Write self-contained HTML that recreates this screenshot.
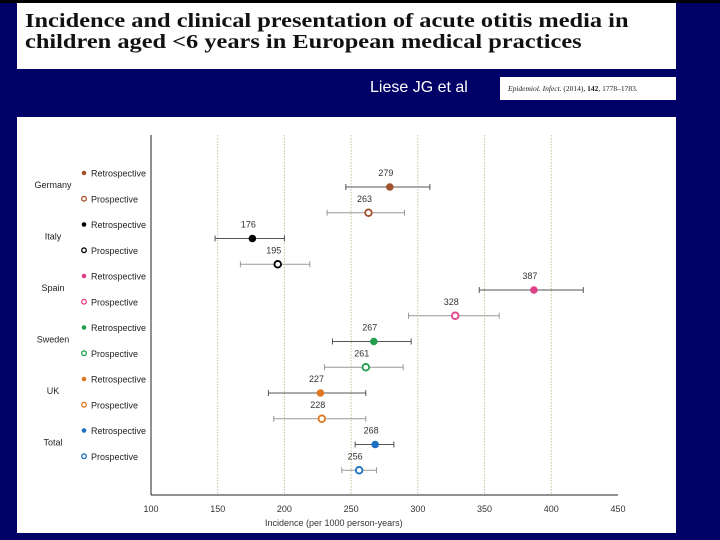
<!DOCTYPE html>
<html><head><meta charset="utf-8"><style>
body{margin:0;width:720px;height:540px;background:#000066;position:relative;overflow:hidden;font-family:"Liberation Sans",sans-serif}
#topbar{position:absolute;left:0;top:0;width:720px;height:3px;background:#000}
#title{position:absolute;left:17px;top:3px;width:659px;height:66px;background:#fff;overflow:hidden}
#title div{position:absolute;left:8px;top:8px;white-space:nowrap;font-family:"Liberation Serif",serif;font-weight:bold;font-size:19.5px;line-height:21px;color:#111;transform:scaleX(1.25);transform-origin:0 0}
#author{position:absolute;left:370px;top:79px;color:#fff;font-size:16px}
#cite{position:absolute;left:500px;top:77px;width:176px;height:23px;background:#fff;font-family:"Liberation Serif",serif;font-size:7.5px;line-height:23px;padding-left:8px;box-sizing:border-box;color:#222}
#chart{position:absolute;left:17px;top:117px}
</style></head><body>
<div id="topbar"></div>
<div id="title"><div>Incidence and clinical presentation of acute otitis media in<br>children aged &lt;6 years in European medical practices</div></div>
<div id="author">Liese JG et al</div>
<div id="cite"><i>Epidemiol. Infect.</i> (2014), <b>142</b>, 1778–1783.</div>
<svg id="chart" width="659" height="416" font-family="Liberation Sans, sans-serif"></svg>
<script>
const countries=["Germany","Italy","Spain","Sweden","UK","Total"];
const colors=["#a0522d","#000000","#e0408a","#22a050","#e07820","#1a70c0"];
const retroVals=[279,176,387,267,227,268];
const retroLo=[246,148,346,236,188,253];
const retroHi=[309,200,424,295,261,282];
const proVals=[263,195,328,261,228,256];
const proLo=[232,167,293,230,192,243];
const proHi=[290,219,361,289,261,269];
const xTicks=[100,150,200,250,300,350,400,450];
const NS="http://www.w3.org/2000/svg";
const svg=document.getElementById('chart');
const ox=17,oy=117;
function X(v){return 151-ox+(v-100)*(467/350);}
function rowY(i){return 187-oy+i*25.75;}
function mk(t,a){const e=document.createElementNS(NS,t);for(const k in a)e.setAttribute(k,a[k]);svg.appendChild(e);return e;}
let bg=mk('rect',{x:0,y:0,width:659,height:416,fill:'#fff'});


const yBot=495-oy;
xTicks.forEach((t,i)=>{
 if(i>0&&i<xTicks.length-1){let g=mk('line',{x1:X(t),x2:X(t),y1:18,y2:yBot,stroke:'#c8c0a0','stroke-dasharray':'1.5,1.5'});
 
 }
 let tl=mk('text',{x:X(t),y:yBot+17,'text-anchor':'middle','font-size':9,fill:'#333'});tl.textContent=t;
 
 
});
let ax=mk('line',{x1:X(100),x2:X(450),y1:yBot,y2:yBot,stroke:'#222'});


let ay=mk('line',{x1:X(100),x2:X(100),y1:18,y2:yBot,stroke:'#222'});


let xt=mk('text',{x:X(237),y:yBot+31,'text-anchor':'middle','font-size':9,fill:'#333'});xt.textContent='Incidence (per 1000 person-years)';


function series(ci,k,val,lo,hi,filled){
 const y=rowY(ci*2+k),c=colors[ci],ec=filled?'#555':'#999';
 let l=mk('line',{x1:X(lo),x2:X(hi),y1:y,y2:y,stroke:ec});
 
 
 [lo,hi].forEach(v=>{let cap=mk('line',{x1:X(v),x2:X(v),y1:y-3,y2:y+3,stroke:ec});
 
 });
 let p=mk('circle',{cx:X(val),cy:y,r:3.3,fill:filled?c:'#fff',stroke:c,'stroke-width':filled?1:1.8});
 
 
 let t=mk('text',{x:X(val)-4,y:y-11,'text-anchor':'middle','font-size':9,fill:'#333'});t.textContent=val;
 
 
 const ly=y-14;
 let d=mk('circle',{cx:67,cy:ly,r:2.3,fill:filled?c:'#fff',stroke:c,'stroke-width':filled?0:1.3});
 
 
 let lt=mk('text',{x:74,y:ly+3.5,'font-size':9,fill:'#222'});lt.textContent=filled?'Retrospective':'Prospective';
 
 
}
countries.forEach((n,i)=>{
 let ct=mk('text',{x:36,y:rowY(i*2)+1,'text-anchor':'middle','font-size':9,fill:'#222'});ct.textContent=n;
 
 
 series(i,0,retroVals[i],retroLo[i],retroHi[i],true);
 series(i,1,proVals[i],proLo[i],proHi[i],false);
});
</script>
</body></html>
